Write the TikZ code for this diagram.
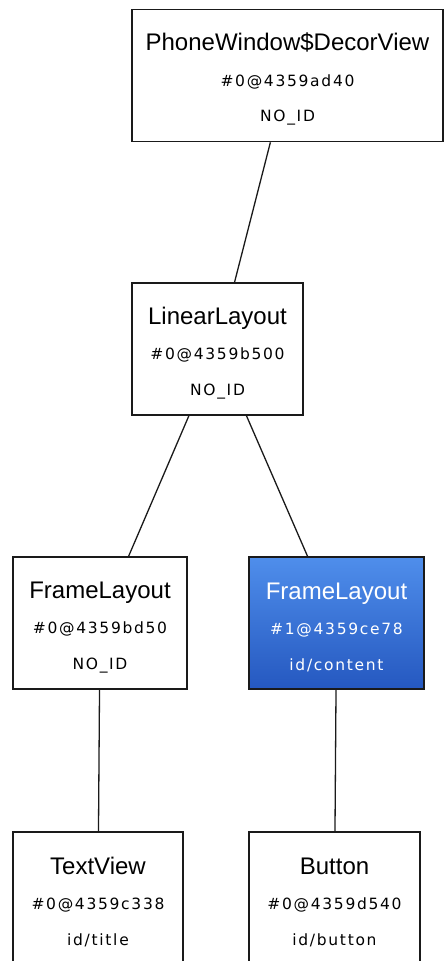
\documentclass[tikz,border=0pt]{standalone}
\usepackage{fontspec}
\setmainfont{Liberation Sans}
\newfontfamily\hexfont[LetterSpace=11]{DejaVu Sans}
\usepackage{xcolor}

\definecolor{boxline}{HTML}{1A1A1A}
\definecolor{seltop}{HTML}{4F8EEB}
\definecolor{selbot}{HTML}{2558C0}

% class name, hash code, id (the strut keeps the lines a bit low in the box)
\newcommand{\viewlabel}[3]{{\fontsize{24}{24}\selectfont\rule{0pt}{25pt}#1}\\{\hexfont #2}\\{\hexfont #3}}

\begin{document}
\begin{tikzpicture}[x=1pt, y=-1pt,
    view/.style={draw=boxline, line width=1.6pt, fill=white, minimum height=132pt,
      inner sep=0pt, align=center, font=\fontsize{15.5}{35.5}\selectfont, text=black},
    selected/.style={view, top color=seltop, bottom color=selbot, text=white},
    link/.style={draw=boxline, line width=1.3pt}]
    \useasboundingbox (0,0) rectangle (446,961);

    % Root
    \node[view, minimum width=311pt] (decor) at (287.5,75.5)
        {\viewlabel{PhoneWindow\$DecorView}{\#0@4359ad40}{NO\_ID}};
    \node[view, minimum width=171pt] (linear) at (217.5,349)
        {\viewlabel{LinearLayout}{\#0@4359b500}{NO\_ID}};

    % Frames
    \node[view, minimum width=174pt] (frame) at (100,623)
        {\viewlabel{FrameLayout}{\#0@4359bd50}{NO\_ID}};
    \node[selected, minimum width=175pt] (content) at (336.5,623)
        {\viewlabel{FrameLayout}{\#1@4359ce78}{id/content}};

    % Leaves
    \node[view, minimum width=170pt] (title) at (98,898)
        {\viewlabel{TextView}{\#0@4359c338}{id/title}};
    \node[view, minimum width=171pt] (button) at (334.5,898)
        {\viewlabel{Button}{\#0@4359d540}{id/button}};

    % Links
    \draw[link] (decor) -- (linear);
    \draw[link] (linear) -- (frame);
    \draw[link] (linear) -- (content);
    \draw[link] (frame) -- (title);
    \draw[link] (content) -- (button);
\end{tikzpicture}
\end{document}
